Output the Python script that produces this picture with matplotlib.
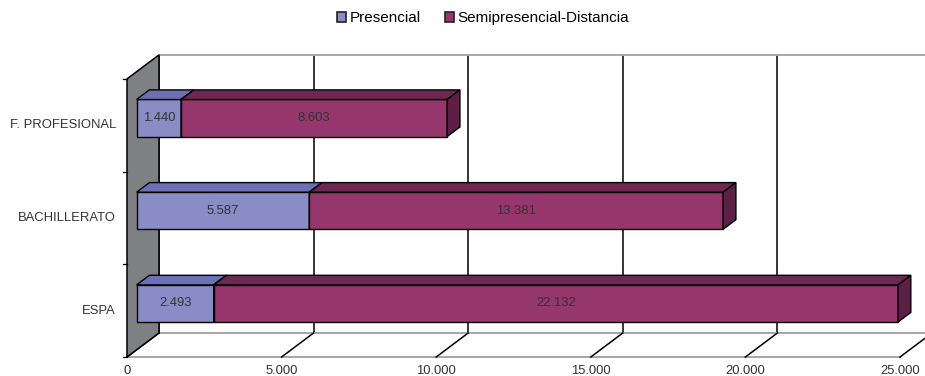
"""
Alumnado por modalidad: barras apiladas con aspecto 3D (estilo hoja de calculo).
"""

import matplotlib.pyplot as plt
from matplotlib.patches import Patch, Polygon

# Datos
categories = ["ESPA", "BACHILLERATO", "F. PROFESIONAL"]
presencial = [2493, 5587, 1440]
semipresencial = [22132, 13381, 8603]
series_names = ["Presencial", "Semipresencial-Distancia"]
x_ticks = [0, 5000, 10000, 15000, 20000, 25000]
x_tick_labels = ["0", "5.000", "10.000", "15.000", "20.000", "25.000"]

# Colores: cara frontal, cara superior, cara lateral
FACE_COLORS = [
    ("#8a8cc6", "#6d70b4", "#5b5e9e"),
    ("#95366c", "#6e2751", "#5c1f45"),
]
WALL_GREY = "#7f8083"
FLOOR_GREY = "#a6a6a6"
TEXT_COLOR = "#333333"
LABEL_SIZE = 9.4

# Proyeccion oblicua: profundidad completa en unidades de datos
DEPTH_X = 1035
DEPTH_Y = 0.259
BAR_FRONT = 0.3
BAR_BACK = 0.7
BAR_LOW = 0.3
BAR_HIGH = 0.7
X_MAX = x_ticks[-1]


def project(x, y, d):
    return (x + d * DEPTH_X, y + d * DEPTH_Y)


def box(ax, x0, x1, y0, y1, colors):
    front, top, side = colors
    faces = [
        ([(x0, y0, BAR_FRONT), (x1, y0, BAR_FRONT), (x1, y1, BAR_FRONT), (x0, y1, BAR_FRONT)], front),
        ([(x0, y1, BAR_FRONT), (x1, y1, BAR_FRONT), (x1, y1, BAR_BACK), (x0, y1, BAR_BACK)], top),
        ([(x1, y0, BAR_FRONT), (x1, y0, BAR_BACK), (x1, y1, BAR_BACK), (x1, y1, BAR_FRONT)], side),
    ]
    for corners, color in faces:
        ax.add_patch(
            Polygon(
                [project(*c) for c in corners],
                closed=True,
                facecolor=color,
                edgecolor="black",
                linewidth=1.0,
                joinstyle="miter",
                zorder=5,
            )
        )


plt.rcParams["font.family"] = ["Liberation Sans", "DejaVu Sans"]

figure = plt.figure(figsize=(9.25, 3.76), dpi=100)
axis = figure.add_axes([0, 0, 1, 1])
axis.set_xlim(-4107, 25808)
axis.set_ylim(-0.205, 3.851)
axis.axis("off")

n_cat = len(categories)

# Pared del fondo: lineas de division y borde superior
for value in x_ticks:
    bottom = project(value, 0, 1)
    top = project(value, n_cat, 1)
    axis.plot(
        [bottom[0], top[0]], [bottom[1], top[1]],
        color="black", linewidth=1.1, zorder=1,
    )
top_left = project(0, n_cat, 1)
top_right = project(X_MAX * 1.2, n_cat, 1)
axis.plot([top_left[0], top_right[0]], [top_left[1], top_right[1]],
          color=FLOOR_GREY, linewidth=1.4, zorder=1)

# Suelo
back_left = project(0, 0, 1)
back_right = project(X_MAX * 1.2, 0, 1)
axis.plot([back_left[0], back_right[0]], [back_left[1], back_right[1]],
          color=FLOOR_GREY, linewidth=1.4, zorder=1)
front_left = project(0, 0, 0)
front_right = project(X_MAX, 0, 0)
axis.plot([front_left[0], front_right[0]], [front_left[1], front_right[1]],
          color=FLOOR_GREY, linewidth=1.4, zorder=1)
for value, label in zip(x_ticks, x_tick_labels):
    front = project(value, 0, 0)
    back = project(value, 0, 1)
    axis.plot([front[0], back[0]], [front[1], back[1]],
              color="black", linewidth=1.1, zorder=2)
    axis.annotate(
        label, xy=front, xytext=(0, -6), textcoords="offset points",
        ha="center", va="top", fontsize=LABEL_SIZE, color=TEXT_COLOR,
    )

# Pared lateral
wall = [project(0, 0, 0), project(0, n_cat, 0),
        project(0, n_cat, 1), project(0, 0, 1)]
axis.add_patch(Polygon(wall, closed=True, facecolor=WALL_GREY,
                       edgecolor="black", linewidth=1.1, zorder=3))
for level in range(n_cat + 1):
    px, py = project(0, level, 0)
    axis.plot([px - 140, px], [py, py], color="black", linewidth=0.9, zorder=3)

# Etiquetas de categoria
for i, name in enumerate(categories):
    axis.annotate(
        name, xy=project(0, i + 0.5, 0), xytext=(-8, 0),
        textcoords="offset points", ha="right", va="center",
        fontsize=LABEL_SIZE, color=TEXT_COLOR,
    )

# Barras apiladas
for i in range(n_cat):
    left = 0
    for values, colors in zip([presencial, semipresencial], FACE_COLORS):
        right = left + values[i]
        box(axis, left, right, i + BAR_LOW, i + BAR_HIGH, colors)
        label = f"{values[i]:,}".replace(",", ".")
        axis.text(
            *project((left + right) / 2, i + 0.5, BAR_FRONT), label,
            ha="center", va="center", fontsize=LABEL_SIZE,
            color=TEXT_COLOR, zorder=6,
        )
        left = right

# Leyenda
handles = [
    Patch(facecolor=colors[0], edgecolor="#222222", linewidth=1.2)
    for colors in FACE_COLORS
]
figure.legend(
    handles, series_names,
    loc="center", bbox_to_anchor=(0.522, 0.952),
    ncol=2, frameon=False, fontsize=11,
    handlelength=0.6, handleheight=0.6, handletextpad=0.2,
    columnspacing=1.6,
)

figure.savefig("out.png", dpi=100)
plt.close(figure)
